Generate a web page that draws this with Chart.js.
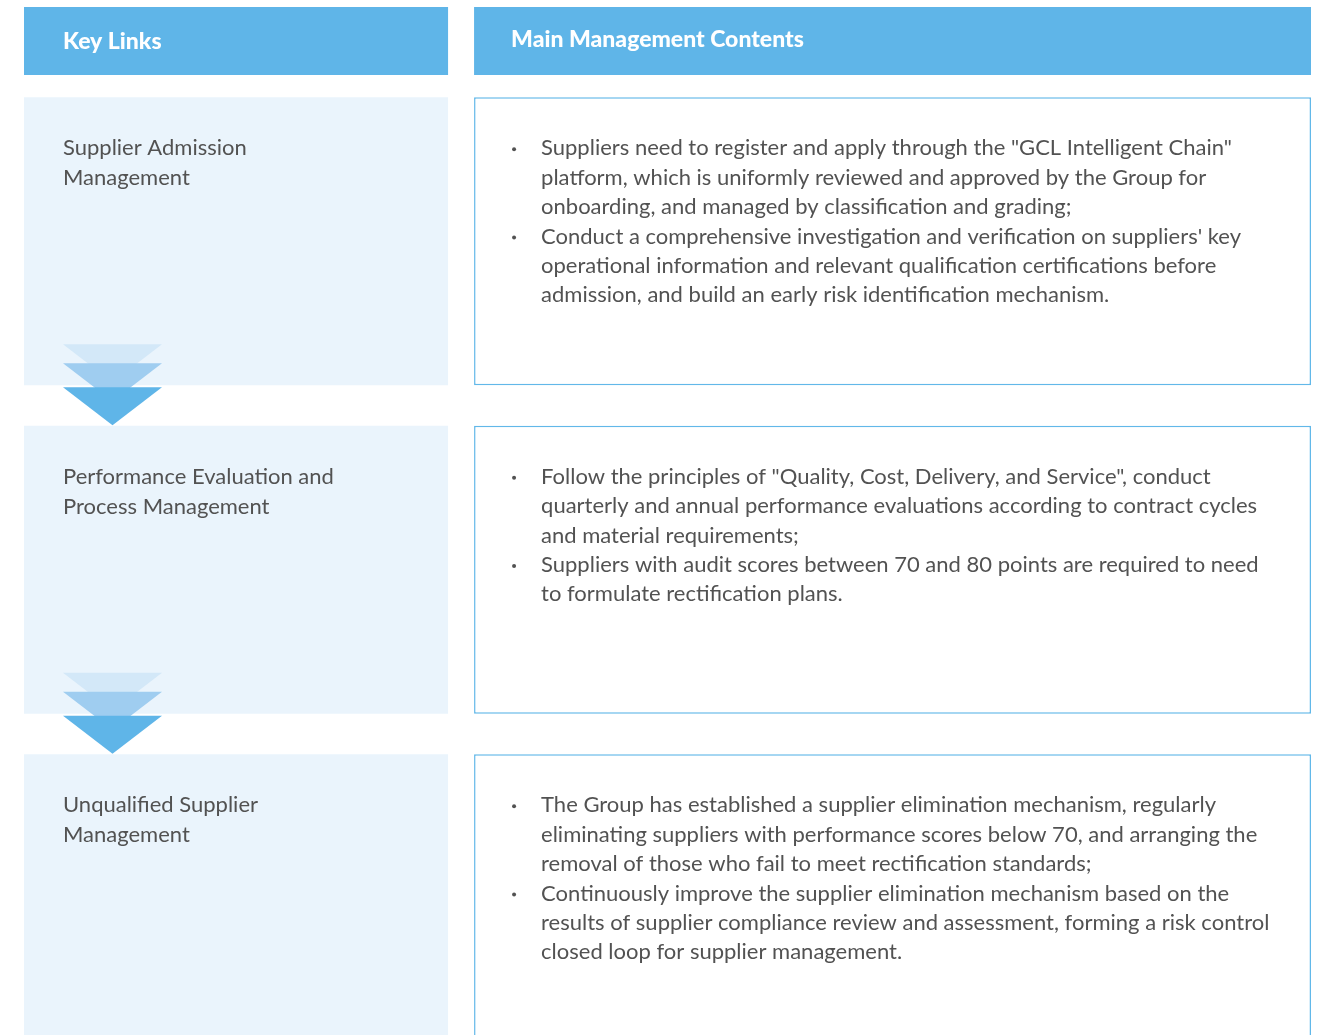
<!DOCTYPE html>
<html>
<head>
<meta charset="utf-8">
<script src="https://cdn.jsdelivr.net/npm/chart.js@4.4.1/dist/chart.umd.min.js"></script>
<style>
  html, body { margin: 0; padding: 0; background: #fff; overflow: hidden; }
  #wrap { position: absolute; left: 0; top: 0; width: 1325px; height: 1065px; }
</style>
</head>
<body>
<div id="wrap"><canvas id="myChart"></canvas></div>
<script>
// column headers
var headers = ['Key Links', 'Main Management Contents'];

// key links (left column), already broken into lines
var keyLinks = [
    ['Supplier Admission', 'Management'],
    ['Performance Evaluation and', 'Process Management'],
    ['Unqualified Supplier', 'Management']
];

// management contents (right column): one array of bullets per row, each bullet an array of lines
var contents = [
    [
        ['Suppliers need to register and apply through the "GCL Intelligent Chain"',
         'platform, which is uniformly reviewed and approved by the Group for',
         'onboarding, and managed by classification and grading;'],
        ['Conduct a comprehensive investigation and verification on suppliers\' key',
         'operational information and relevant qualification certifications before',
         'admission, and build an early risk identification mechanism.']
    ],
    [
        ['Follow the principles of "Quality, Cost, Delivery, and Service", conduct',
         'quarterly and annual performance evaluations according to contract cycles',
         'and material requirements;'],
        ['Suppliers with audit scores between 70 and 80 points are required to need',
         'to formulate rectification plans.']
    ],
    [
        ['The Group has established a supplier elimination mechanism, regularly',
         'eliminating suppliers with performance scores below 70, and arranging the',
         'removal of those who fail to meet rectification standards;'],
        ['Continuously improve the supplier elimination mechanism based on the',
         'results of supplier compliance review and assessment, forming a risk control',
         'closed loop for supplier management.']
    ]
];

// layout (fractions of table width)
var LEFT_END = 0.3295;
var RIGHT_START = 0.3497;

var BLUE = '#5fb5e8';
var FONT = 'Lato, "Noto Sans", sans-serif';
var TEXT = '#525252';

var rowLabels = keyLinks.map(function (l) { return l.join(' '); });

var tablePlugin = {
    id: 'tablePlugin',
    afterDatasetsDraw: function (chart) {
        var ctx = chart.ctx;
        var xs = chart.scales.x;
        var x0 = xs.getPixelForValue(0);
        var x1 = xs.getPixelForValue(LEFT_END);
        var x2 = xs.getPixelForValue(RIGHT_START);
        var x3 = xs.getPixelForValue(1);
        ctx.save();

        // header band
        ctx.fillStyle = BLUE;
        ctx.fillRect(x0, 7, x1 - x0, 68);
        ctx.fillRect(x2, 7, x3 - x2, 68);
        ctx.fillStyle = '#fff';
        ctx.font = '900 23px ' + FONT;
        ctx.textBaseline = 'middle';
        ctx.fillText(headers[0], x0 + 39, 42);
        ctx.fillText(headers[1], x2 + 37, 40);

        var left = chart.getDatasetMeta(0).data;
        var right = chart.getDatasetMeta(1).data;

        left.forEach(function (bar, i) {
            var top = bar.y - bar.height / 2;
            var bottom = bar.y + bar.height / 2;

            // arrow between rows
            if (i < left.length - 1) {
                var ax = x0 + 39, aw = 99, ah = 38;
                var tri = function (ty, col) {
                    ctx.fillStyle = col;
                    ctx.beginPath();
                    ctx.moveTo(ax, ty);
                    ctx.lineTo(ax + aw, ty);
                    ctx.lineTo(ax + aw / 2, ty + ah);
                    ctx.closePath();
                    ctx.fill();
                };
                tri(bottom - 41, '#d3e8f8');
                tri(bottom - 22, '#9fcdf0');
                tri(bottom + 2, BLUE);
            }

            ctx.fillStyle = TEXT;
            ctx.font = '22px ' + FONT;
            keyLinks[i].forEach(function (line, k) {
                ctx.fillText(line, x0 + 39, top + 51 + k * 30);
            });
        });

        right.forEach(function (bar, i) {
            var top = bar.y - bar.height / 2;
            var ly = top + 51;
            ctx.fillStyle = TEXT;
            ctx.font = '22px ' + FONT;
            contents[i].forEach(function (bullet) {
                ctx.beginPath();
                ctx.arc(x2 + 40, ly + 1, 2, 0, Math.PI * 2);
                ctx.fill();
                bullet.forEach(function (line) {
                    ctx.fillText(line, x2 + 67, ly);
                    ly += 29.4;
                });
            });
        });
        ctx.restore();
    }
};

var ctx = document.getElementById('myChart').getContext('2d');
var chart = new Chart(ctx, {
    type: 'bar',
    data: {
        labels: rowLabels,
        datasets: [{
            label: headers[0],
            data: keyLinks.map(function () { return [0, LEFT_END]; }),
            backgroundColor: '#eaf4fc',
            borderWidth: 0,
            grouped: false,
            categoryPercentage: 1,
            barPercentage: 0.8767
        }, {
            label: headers[1],
            data: contents.map(function () { return [RIGHT_START, 1]; }),
            backgroundColor: '#ffffff',
            borderColor: '#62b8e9',
            borderWidth: 1.5,
            borderSkipped: false,
            grouped: false,
            categoryPercentage: 1,
            barPercentage: 0.8767
        }]
    },
    options: {
        indexAxis: 'y',
        responsive: true,
        maintainAspectRatio: false,
        animation: false,
        layout: { padding: { left: 24, right: 14, top: 77, bottom: 2.5 } },
        plugins: {
            legend: { display: false },
            tooltip: { enabled: false }
        },
        scales: {
            x: { type: 'linear', min: 0, max: 1, display: false },
            y: { type: 'category', display: false, offset: true }
        }
    },
    plugins: [tablePlugin]
});
</script>
</body>
</html>
